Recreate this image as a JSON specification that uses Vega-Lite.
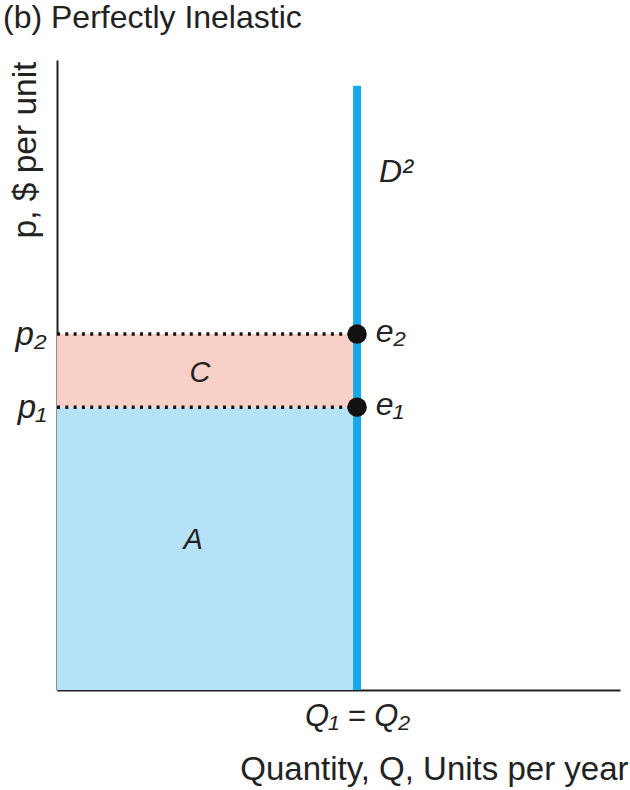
{
  "$schema": "https://vega.github.io/schema/vega-lite/v6.json",
  "autosize": {"type": "none"},
  "width": 563,
  "height": 630,
  "padding": {"left": 57, "top": 60, "right": 10, "bottom": 100},
  "background": "white",
  "config": {"view": {"stroke": null}, "font": "Liberation Sans"},
  "title": {"text": "(b) Perfectly Inelastic", "anchor": "start", "frame": "group", "dx": -54, "offset": 25, "fontSize": 32, "fontWeight": "normal", "font": "Liberation Sans", "color": "#222222"},
  "datasets": {
    "areas": [
      {"region": "A", "q0": 0, "q1": 5.33, "p0": 0, "p1": 4.49},
      {"region": "C", "q0": 0, "q1": 5.33, "p0": 4.49, "p1": 5.65}
    ],
    "prices": [
      {"label": "p1", "q0": 0, "q1": 5.33, "p": 4.49},
      {"label": "p2", "q0": 0, "q1": 5.33, "p": 5.65}
    ],
    "demand": [{"q": 5.33, "p0": 0, "p1": 9.59}],
    "labels": [
      {"text": "D²", "q": 5.72, "p": 8.22, "kind": "left"},
      {"text": "e₂", "q": 5.66, "p": 5.68, "kind": "left"},
      {"text": "e₁", "q": 5.66, "p": 4.52, "kind": "left"},
      {"text": "C", "q": 2.54, "p": 5.03, "kind": "center"},
      {"text": "A", "q": 2.42, "p": 2.38, "kind": "center"}
    ]
  },
  "encoding": {
    "x": {"type": "quantitative"},
    "y": {"type": "quantitative"}
  },
  "layer": [
    {
      "data": {"name": "areas"},
      "mark": {"type": "rect"},
      "encoding": {
        "x": {"field": "q0", "type": "quantitative", "scale": {"domain": [0, 10], "nice": false},
          "axis": {"values": [5.33], "labelExpr": "'Q₁ = Q₂'", "labelFont": "Liberation Sans", "labelFontStyle": "italic", "labelFontSize": 31, "labelColor": "#222222", "labelPadding": 11, "ticks": false, "grid": false, "domainColor": "#222222", "domainWidth": 2,
            "title": "Quantity, Q, Units per year", "titleFont": "Liberation Sans", "titleFontSize": 33, "titleFontWeight": "normal", "titleColor": "#222222", "titleAlign": "right", "titleAnchor": null, "titleX": 571, "titleY": 89, "titleBaseline": "alphabetic"}},
        "x2": {"field": "q1"},
        "y": {"field": "p0", "type": "quantitative", "scale": {"domain": [0, 10], "nice": false},
          "axis": {"values": [4.49, 5.65], "labelExpr": "datum.value > 5 ? 'p₂' : 'p₁'", "labelFont": "Liberation Sans", "labelFontStyle": "italic", "labelFontSize": 33, "labelColor": "#222222", "labelPadding": 11, "ticks": false, "grid": false, "domainColor": "#222222", "domainWidth": 2,
            "title": "p, $ per unit", "titleFont": "Liberation Sans", "titleFontSize": 33.5, "titleFontWeight": "normal", "titleColor": "#222222", "titleAngle": -90, "titleAlign": "left", "titleAnchor": null, "titleX": -22, "titleY": 178, "titleBaseline": "alphabetic"}},
        "y2": {"field": "p1"},
        "color": {"field": "region", "type": "nominal", "scale": {"domain": ["A", "C"], "range": ["#b5e2f7", "#f9d0c8"]}, "legend": null}
      }
    },
    {
      "data": {"name": "prices"},
      "mark": {"type": "rule", "color": "#111111", "strokeWidth": 3.5, "strokeDash": [3, 5.3]},
      "encoding": {
        "x": {"field": "q0", "type": "quantitative"},
        "x2": {"field": "q1"},
        "y": {"field": "p", "type": "quantitative"}
      }
    },
    {
      "data": {"name": "demand"},
      "mark": {"type": "rule", "color": "#18a8e8", "strokeWidth": 8},
      "encoding": {
        "x": {"field": "q", "type": "quantitative"},
        "y": {"field": "p0", "type": "quantitative"},
        "y2": {"field": "p1"}
      }
    },
    {
      "data": {"name": "prices"},
      "mark": {"type": "point", "filled": true, "shape": "circle", "color": "#111111", "size": 380, "opacity": 1},
      "encoding": {
        "x": {"field": "q1", "type": "quantitative"},
        "y": {"field": "p", "type": "quantitative"}
      }
    },
    {
      "data": {"name": "labels"},
      "transform": [{"filter": "datum.kind == 'left'"}],
      "mark": {"type": "text", "align": "left", "baseline": "middle", "fontSize": 32, "fontStyle": "italic", "font": "Liberation Sans", "color": "#222222"},
      "encoding": {
        "x": {"field": "q", "type": "quantitative"},
        "y": {"field": "p", "type": "quantitative"},
        "text": {"field": "text"}
      }
    },
    {
      "data": {"name": "labels"},
      "transform": [{"filter": "datum.kind == 'center'"}],
      "mark": {"type": "text", "align": "center", "baseline": "middle", "fontSize": 29, "fontStyle": "italic", "font": "Liberation Sans", "color": "#222222"},
      "encoding": {
        "x": {"field": "q", "type": "quantitative"},
        "y": {"field": "p", "type": "quantitative"},
        "text": {"field": "text"}
      }
    }
  ]
}
